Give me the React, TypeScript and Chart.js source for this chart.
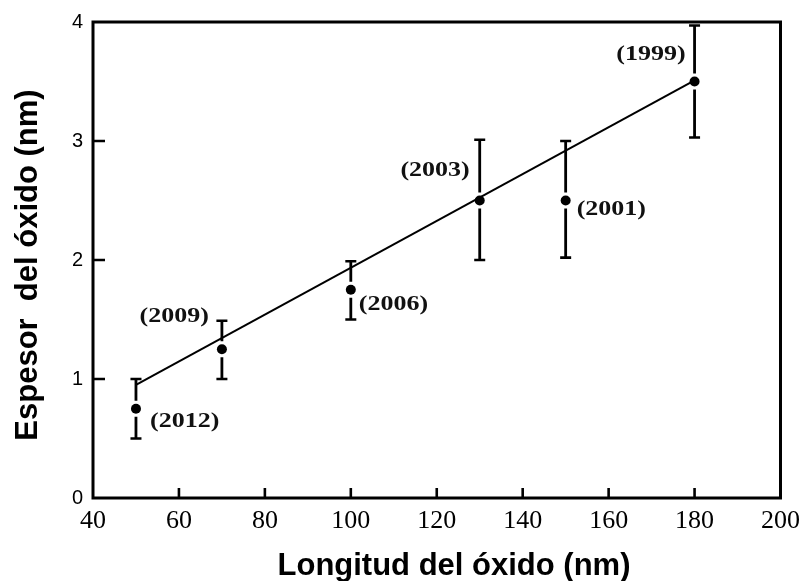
import React, { useEffect, useRef } from "react";
import { Chart, registerables } from "chart.js";

Chart.register(...registerables);

// ---- Data ----
const oxideLength = [50, 70, 100, 130, 150, 180];
const oxideThickness = [0.75, 1.25, 1.75, 2.5, 2.5, 3.5];
const errorLow = [0.5, 1.0, 1.5, 2.0, 2.02, 3.03];
const errorHigh = [1.0, 1.49, 1.99, 3.01, 3.0, 3.97];
const yearLabels = ["(2012)", "(2009)", "(2006)", "(2003)", "(2001)", "(1999)"];
const trendX = [50, 180];
const trendY = [0.95, 3.51];
const xMin = 40;
const xMax = 200;
const xStep = 20;
const yMin = 0;
const yMax = 4;
const yStep = 1;
const xTitle = "Longitud del óxido (nm)";
const yTitle = "Espesor  del óxido (nm)";

// ---- Styles (label placement relative to each point, in pixels) ----
const labelPlacement: { dx: number; dy: number; align: CanvasTextAlign }[] = [
  { dx: 14, dy: 13, align: "left" },
  { dx: -13, dy: -32, align: "right" },
  { dx: 8, dy: 15, align: "left" },
  { dx: -10, dy: -30, align: "right" },
  { dx: 11, dy: 9, align: "left" },
  { dx: -9, dy: -27, align: "right" },
];

const errorBarPlugin = {
  id: "errorBars",
  beforeDatasetsDraw(chart: any) {
    const { ctx } = chart;
    const xs = chart.scales.x;
    const ys = chart.scales.y;
    ctx.save();
    ctx.strokeStyle = "#000";
    ctx.lineCap = "butt";
    for (let i = 0; i < oxideLength.length; i++) {
      const px = xs.getPixelForValue(oxideLength[i]);
      const py = ys.getPixelForValue(oxideThickness[i]);
      const top = ys.getPixelForValue(errorHigh[i]);
      const bot = ys.getPixelForValue(errorLow[i]);
      const gap = 8;
      ctx.lineWidth = 2.8;
      ctx.beginPath();
      ctx.moveTo(px, top);
      ctx.lineTo(px, py - gap);
      ctx.moveTo(px, py + gap);
      ctx.lineTo(px, bot);
      ctx.stroke();
      ctx.lineWidth = 2.6;
      ctx.beginPath();
      ctx.moveTo(px - 5.5, top);
      ctx.lineTo(px + 5.5, top);
      ctx.moveTo(px - 5.5, bot);
      ctx.lineTo(px + 5.5, bot);
      ctx.stroke();
    }
    ctx.restore();
  },
};

const framePlugin = {
  id: "frameAndLabels",
  afterDraw(chart: any) {
    const { ctx, chartArea } = chart;
    const { left, right, top, bottom } = chartArea;
    const xs = chart.scales.x;
    const ys = chart.scales.y;
    ctx.save();
    // frame
    ctx.strokeStyle = "#000";
    ctx.lineWidth = 3;
    ctx.strokeRect(left, top, right - left, bottom - top);
    // inward ticks
    ctx.lineWidth = 2.6;
    ctx.beginPath();
    ys.ticks.forEach((t: any) => {
      if (t.value <= yMin || t.value >= yMax) return;
      const py = ys.getPixelForValue(t.value);
      ctx.moveTo(left, py);
      ctx.lineTo(left + 12, py);
    });
    xs.ticks.forEach((t: any) => {
      if (t.value <= xMin || t.value >= xMax) return;
      const px = xs.getPixelForValue(t.value);
      ctx.moveTo(px, bottom);
      ctx.lineTo(px, bottom - 10);
    });
    ctx.stroke();

    // year labels
    ctx.fillStyle = "#111";
    ctx.font = "bold 20px 'Liberation Serif', serif";
    ctx.textBaseline = "middle";
    for (let i = 0; i < yearLabels.length; i++) {
      const px = xs.getPixelForValue(oxideLength[i]);
      const py = ys.getPixelForValue(oxideThickness[i]);
      const p = labelPlacement[i];
      ctx.save();
      ctx.translate(px + p.dx, py + p.dy);
      ctx.scale(1.3, 1);
      ctx.textAlign = p.align;
      ctx.fillText(yearLabels[i], 0, 0);
      ctx.restore();
    }

    // axis titles
    ctx.fillStyle = "#000";
    ctx.font = "bold 31px 'Liberation Sans', Arial, sans-serif";
    ctx.textAlign = "center";
    ctx.textBaseline = "alphabetic";
    ctx.fillText(xTitle, 454, 575);
    ctx.save();
    ctx.translate(37, 265);
    ctx.rotate(-Math.PI / 2);
    ctx.fillText(yTitle, 0, 0);
    ctx.restore();
    ctx.restore();
  },
};

export default function App() {
  const canvasRef = useRef<HTMLCanvasElement | null>(null);

  useEffect(() => {
    const canvas = canvasRef.current;
    if (!canvas) return;
    const chart = new Chart(canvas, {
      type: "scatter",
      data: {
        datasets: [
          {
            type: "line",
            label: "Tendencia",
            data: trendX.map((x, i) => ({ x, y: trendY[i] })),
            borderColor: "#000",
            borderWidth: 2,
            pointRadius: 0,
            fill: false,
            tension: 0,
          },
          {
            type: "scatter",
            label: "Espesor",
            data: oxideLength.map((x, i) => ({ x, y: oxideThickness[i] })),
            backgroundColor: "#000",
            borderColor: "#000",
            pointRadius: 5,
            borderWidth: 0,
          },
        ] as any,
      },
      options: {
        animation: false,
        responsive: false,
        devicePixelRatio: 1,
        layout: { padding: { top: 22, right: 20, left: 0, bottom: 0 } },
        plugins: {
          legend: { display: false },
          tooltip: { enabled: false },
        },
        scales: {
          x: {
            type: "linear",
            min: xMin,
            max: xMax,
            grid: { display: false, drawTicks: false },
            border: { display: false },
            ticks: {
              stepSize: xStep,
              padding: 8,
              color: "#000",
              font: { family: "'Liberation Serif', serif", size: 26 },
            },
            afterFit(scale: any) {
              scale.height = 83;
            },
          },
          y: {
            type: "linear",
            min: yMin,
            max: yMax,
            grid: { display: false, drawTicks: false },
            border: { display: false },
            ticks: {
              stepSize: yStep,
              padding: 10,
              color: "#000",
              font: { family: "'Liberation Sans', sans-serif", size: 20 },
            },
            afterFit(scale: any) {
              scale.width = 93;
            },
          },
        },
      } as any,
      plugins: [errorBarPlugin, framePlugin],
    });
    return () => chart.destroy();
  }, []);

  return (
    <div
      style={{
        position: "fixed",
        left: 0,
        top: 0,
        width: 808,
        height: 581,
        background: "#fff",
      }}
    >
      <canvas ref={canvasRef} width={808} height={581} style={{ display: "block" }} />
    </div>
  );
}
